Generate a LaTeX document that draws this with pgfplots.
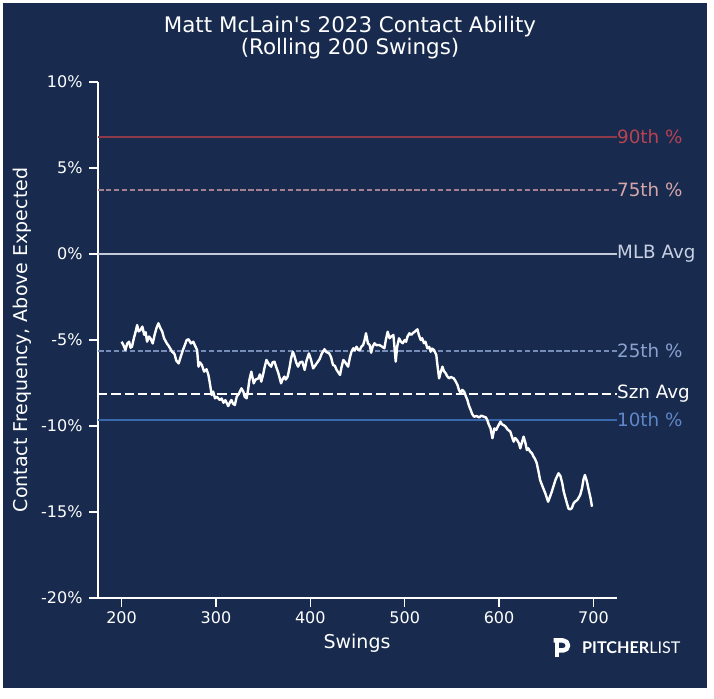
\documentclass[border=0pt]{standalone}
\usepackage{pgfplots}
\pgfplotsset{compat=1.18}
\usepackage{fontspec}
\setmainfont{DejaVu Sans}
\newfontfamily\logofont{Lato}
\definecolor{bgnavy}{RGB}{24,43,78}
\definecolor{c90}{RGB}{140,58,74}
\definecolor{t90}{RGB}{184,66,82}
\definecolor{c75}{RGB}{165,128,145}
\definecolor{t75}{RGB}{214,166,170}
\definecolor{cmlb}{RGB}{196,202,216}
\definecolor{tmlb}{RGB}{200,208,226}
\definecolor{c25}{RGB}{120,140,184}
\definecolor{t25}{RGB}{140,162,208}
\definecolor{c10}{RGB}{58,104,172}
\definecolor{t10}{RGB}{96,136,200}
\begin{document}
\begin{tikzpicture}[x=1pt,y=1pt]
\useasboundingbox (0,0) rectangle (714,698);
\fill[white] (0,0) rectangle (714,698);
\fill[bgnavy] (3,10) rectangle (707,695);
\node[white, anchor=base, font=\fontsize{21.4}{25}\selectfont] at (350,665.7) {Matt McLain\textquotesingle s 2023 Contact Ability};
\node[white, anchor=base, font=\fontsize{21.4}{25}\selectfont] at (350,643) {(Rolling 200 Swings)};
\node[white, anchor=base, font=\fontsize{19}{23}\selectfont] at (357,49) {Swings};
\node[white, rotate=90, font=\fontsize{19}{23}\selectfont] at (22,358) {Contact Frequency, Above Expected};
% logo
\draw[white, line width=4.5pt] (557,40.5) -- (557,57.5);
\draw[white, line width=4.5pt, line join=round] (553.5,57.5) -- (563,57.5) arc[start angle=90, end angle=-90, radius=5] -- (557,47.5);
\node[white, anchor=base west, inner sep=0pt, font=\logofont\fontsize{16.2}{19}\selectfont] at (582,44) {\textbf{PITCHER}LIST};
\begin{axis}[
  at={(98pt,100pt)}, anchor=south west,
  width=519pt, height=516pt, scale only axis,
  xmin=175, xmax=725, ymin=-20, ymax=10,
  axis x line*=bottom, axis y line*=left,
  axis line style={white, line width=1.3pt, -},
  xtick={200,300,400,500,600,700},
  ytick={-20,-15,-10,-5,0,5,10},
  yticklabels={-20\%,-15\%,-10\%,-5\%,0\%,5\%,10\%},
  tick style={white, line width=1.3pt},
  tick align=outside, major tick length=9pt,
  ticklabel style={font=\fontsize{16}{19}\selectfont, text=white},
  yticklabel style={xshift=-3pt},
  xticklabel style={yshift=-1pt},
  /pgf/number format/assume math mode=true,
  clip=false,
]
\addplot[c90, line width=1.5pt] coordinates {(175,6.8) (725,6.8)};
\addplot[c75, line width=1.5pt, dash pattern=on 5.5pt off 2.4pt] coordinates {(175,3.72) (725,3.72)};
\addplot[cmlb, line width=1.5pt] coordinates {(175,0) (725,0)};
\addplot[c25, line width=1.5pt, dash pattern=on 5.5pt off 2.4pt] coordinates {(175,-5.64) (725,-5.64)};
\addplot[c10, line width=1.5pt] coordinates {(175,-9.65) (725,-9.65)};
\addplot[white, line width=2.5pt, dash pattern=on 9.25pt off 4pt] coordinates {(175,-8.14) (725,-8.14)};
\addplot[white, line width=2.4pt, line join=round] coordinates {
(200,-5.1) (202,-5.3) (204,-5.58) (206,-5.2) (208,-5.1) (209.5,-5.45) (211,-5.39) (213,-4.9) (214.5,-4.6) (216.5,-4.13) (218,-4.5) (220,-4.42) (222,-4.22) (224,-4.7) (225.5,-4.55) (227,-5.1) (229,-4.8) (230.5,-4.9) (233,-5.2) (235,-4.7) (237,-4.3) (239,-4.03) (241,-4.3) (243,-4.5) (245,-4.9) (248,-5.2) (250,-5.35) (253.5,-5.68) (256,-5.8) (258,-6.2) (260.5,-6.36) (262.5,-6.0) (265,-5.58) (267,-5.3) (269,-5.0) (271,-4.96) (273.5,-5.2) (276,-5.1) (278,-5.35) (280,-5.58) (281.5,-6.55) (283,-6.3) (285,-6.45) (287.5,-6.84) (290,-6.7) (292,-7.03) (293.5,-7.5) (295.5,-8.2) (297,-8.0) (299,-8.39) (301,-8.3) (304,-8.49) (306,-8.4) (308,-8.65) (310,-8.5) (313,-8.84) (315,-8.6) (316.5,-8.49) (318,-8.7) (320,-8.78) (322,-8.3) (324.5,-8.1) (327,-7.81) (329,-8.0) (330.5,-8.3) (332.5,-8.39) (334,-7.9) (335.5,-7.3) (337.5,-6.84) (340,-7.52) (342,-7.3) (345,-7.23) (346.5,-7.0) (348,-7.42) (350,-7.0) (351.5,-6.6) (353.5,-6.16) (356,-6.4) (358.5,-6.55) (360,-6.3) (362,-6.26) (364,-6.6) (366,-6.9) (369,-7.52) (370.5,-7.3) (372.5,-7.13) (374,-7.3) (376,-7.13) (378,-6.6) (379.5,-6.1) (381.5,-5.68) (383,-5.9) (385,-6.3) (387,-6.55) (389,-6.3) (391.5,-6.26) (394,-6.74) (396,-6.2) (398.5,-5.78) (400.5,-6.1) (403,-6.65) (405,-6.5) (408,-6.26) (410,-6.1) (412,-5.8) (415,-5.54) (417,-5.7) (420,-5.78) (422,-6.0) (424,-6.45) (426,-6.5) (428,-6.75) (431.5,-7.03) (433,-6.6) (435,-6.16) (437,-6.3) (440,-6.55) (442,-6.0) (443.5,-5.7) (445.5,-5.48) (447,-5.6) (449,-5.39) (451,-5.6) (452.5,-5.58) (454,-5.4) (456,-5.29) (457.5,-5.0) (459,-4.61) (461,-5.19) (463,-5.3) (464.5,-5.74) (466,-5.4) (468,-5.19) (470,-5.3) (473,-5.29) (475,-5.35) (478.5,-5.48) (480,-5.0) (482,-4.52) (484,-4.9) (485.5,-4.81) (488,-4.71) (489,-5.3) (490.5,-6.26) (492,-5.4) (494,-4.9) (496,-5.1) (498,-5.19) (500,-5.0) (501.5,-5.1) (503,-4.8) (505,-4.61) (507,-4.7) (508.5,-4.61) (511,-4.5) (513.5,-4.38) (515,-4.7) (517,-5.0) (518.5,-4.9) (520.5,-5.19) (522,-5.1) (524,-5.48) (526,-5.4) (527.5,-5.68) (529,-5.5) (531,-5.58) (533.5,-5.87) (535,-6.6) (536.5,-7.23) (538,-6.9) (540,-6.55) (541.5,-6.8) (543.5,-6.94) (545,-7.1) (547,-7.23) (549,-7.15) (552,-7.23) (554,-7.4) (556,-7.62) (557.5,-7.9) (559.5,-8.1) (561,-7.9) (563,-8.0) (565,-8.3) (566.5,-8.49) (568,-8.8) (570,-9.07) (571.5,-9.3) (573.5,-9.46) (576,-9.42) (579,-9.5) (581,-9.4) (584,-9.46) (586,-9.5) (587.5,-9.65) (589,-9.9) (591,-10.14) (593,-10.71) (595,-10.14) (597,-10.23) (599,-10.0) (601.5,-9.75) (603,-9.9) (605,-9.95) (607,-10.04) (609,-10.2) (612,-10.33) (613.5,-10.6) (615.5,-10.91) (617,-10.7) (619,-10.81) (621,-11.0) (622.5,-11.3) (624,-11.0) (626,-10.62) (628,-11.0) (629.5,-11.4) (631,-11.3) (633,-11.49) (635,-11.6) (636.5,-11.78) (638,-11.9) (640,-12.17) (642,-12.7) (643.5,-13.14) (646,-13.5) (649,-13.91) (652,-14.4) (654,-14.11) (656,-13.8) (657.5,-13.53) (660,-13.1) (663,-12.75) (665,-12.9) (667,-13.33) (668.5,-13.8) (670,-14.11) (672,-14.5) (673.5,-14.79) (675,-14.85) (677,-14.79) (679,-14.5) (680.5,-14.4) (683,-14.3) (686,-14.01) (688,-13.6) (689.5,-13.1) (691,-12.85) (693,-13.2) (695,-13.72) (697,-14.2) (698.5,-14.69)
};
\node[t90, anchor=west, inner xsep=0pt, font=\fontsize{18.3}{22}\selectfont] at (axis cs:725,6.8) {90th \%};
\node[t75, anchor=west, inner xsep=0pt, font=\fontsize{18.3}{22}\selectfont] at (axis cs:725,3.72) {75th \%};
\node[tmlb, anchor=west, inner xsep=0pt, font=\fontsize{18.3}{22}\selectfont] at (axis cs:725,0) {MLB Avg};
\node[t25, anchor=west, inner xsep=0pt, font=\fontsize{18.3}{22}\selectfont] at (axis cs:725,-5.64) {25th \%};
\node[white, anchor=west, inner xsep=0pt, font=\fontsize{18.3}{22}\selectfont] at (axis cs:725,-8.14) {Szn Avg};
\node[t10, anchor=west, inner xsep=0pt, font=\fontsize{18.3}{22}\selectfont] at (axis cs:725,-9.65) {10th \%};
\end{axis}
\end{tikzpicture}
\end{document}
